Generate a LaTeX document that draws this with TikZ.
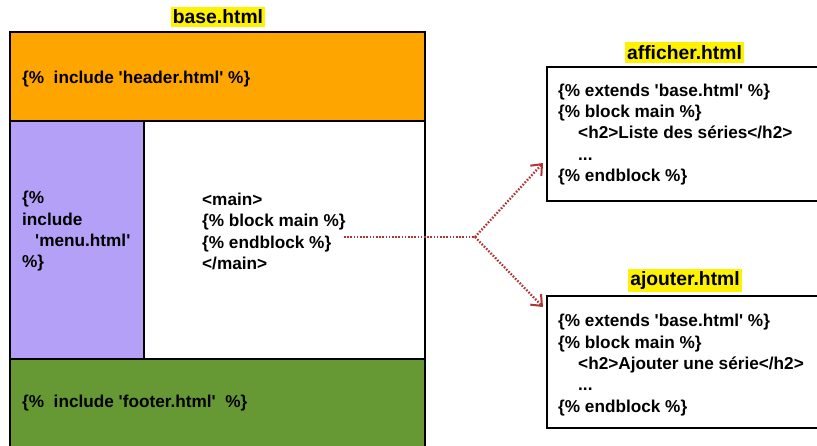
\documentclass[tikz,border=0pt]{standalone}
\usepackage{fontspec}
\setmainfont{Liberation Sans}[Ligatures=TeXOff]
\usetikzlibrary{arrows.meta}
\definecolor{hdr}{HTML}{FFA500}
\definecolor{mnu}{HTML}{B4A0F6}
\definecolor{ftr}{HTML}{669934}
\definecolor{arr}{HTML}{B03434}
\begin{document}
\begin{tikzpicture}[x=1pt,y=-1pt,
  box/.style={draw, line width=2pt, anchor=north west, inner sep=0pt, outer sep=0pt},
  txt/.style={font=\fontsize{17.2}{21.3}\selectfont\bfseries, align=left, inner sep=0pt, anchor=west},
  lbl/.style={fill=yellow, font=\fontsize{19.3}{22}\selectfont\bfseries, inner xsep=2pt, inner ysep=3pt},
  conn/.style={draw=arr, line width=2.3pt, dash pattern=on 1.6pt off 1.6pt},
  tip/.style={-{Straight Barb[length=9pt,width=15pt,line width=2pt]}}]
\useasboundingbox (0,0) rectangle (817,446);
\begin{scope}
\clip (0,0) rectangle (817,446);
% base.html
\node[box, fill=hdr, minimum width=415pt, minimum height=89pt] (header) at (10,32) {};
\node[box, fill=mnu, minimum width=134pt, minimum height=238pt] (menu) at (10,121) {};
\node[box, fill=white, minimum width=281pt, minimum height=238pt] (main) at (144,121) {};
\node[box, fill=ftr, minimum width=415pt, minimum height=100pt] (footer) at (10,359) {};
\node[lbl] (baselbl) at (218,17) {base.html};
\node[txt] (headertxt) at (22,79) {\{\%\ \ include 'header.html' \%\}};
\node[txt] (menutxt) at (22,231.5) {\{\%\\include\\\hspace{13pt}'menu.html'\\\%\}};
\node[txt] (maintxt) at (202,231.5) {<main>\\\{\% block main \%\}\\\{\% endblock \%\}\\</main>};
\node[txt] (footertxt) at (22,403) {\{\%\ \ include 'footer.html'\ \ \%\}};
% afficher.html
\node[box, fill=white, minimum width=300pt, minimum height=134pt] (aff) at (547,67) {};
\node[lbl] (afflbl) at (684.5,52.5) {afficher.html};
\node[txt] (afftxt) at (558,134.5) {\{\% extends 'base.html' \%\}\\\{\% block main \%\}\\\hspace{20pt}<h2>Liste des séries</h2>\\\hspace{20pt}...\\\{\% endblock \%\}};
% ajouter.html
\node[box, fill=white, minimum width=300pt, minimum height=132pt] (ajo) at (547,296) {};
\node[lbl] (ajolbl) at (685,280.5) {ajouter.html};
\node[txt] (ajotxt) at (558,365) {\{\% extends 'base.html' \%\}\\\{\% block main \%\}\\\hspace{20pt}<h2>Ajouter une série</h2>\\\hspace{20pt}...\\\{\% endblock \%\}};
% connectors
\coordinate (src) at (344,237);
\coordinate (j) at (475,237);
\coordinate (t1) at (543,163);
\coordinate (t2) at (543,307);
\draw[conn] (src) -- (j);
\draw[conn, tip] (j) -- (t1);
\draw[conn, tip] (j) -- (t2);
\end{scope}
\end{tikzpicture}
\end{document}
